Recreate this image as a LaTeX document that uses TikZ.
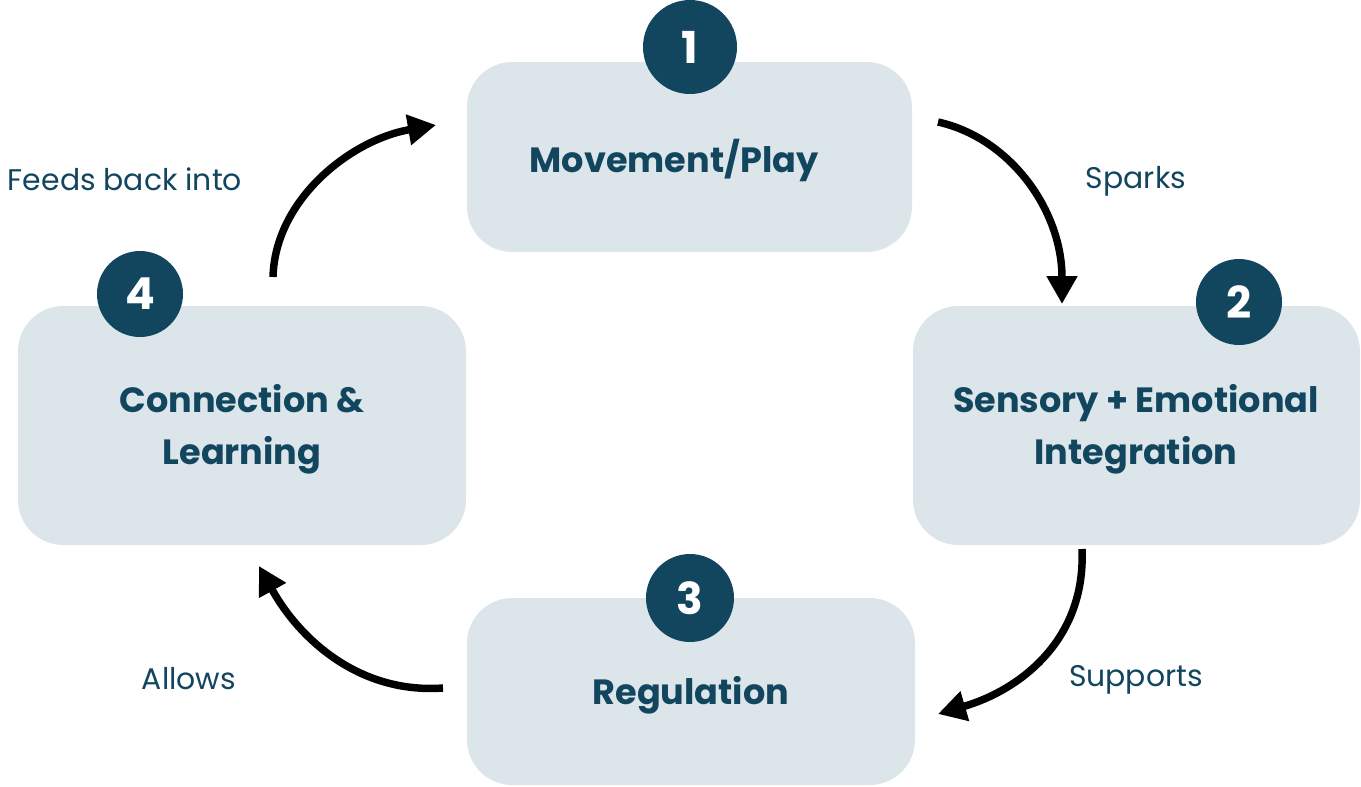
\documentclass[tikz,border=0pt]{standalone}
\usepackage{fontspec}
\setmainfont{Poppins}
\usetikzlibrary{arrows.meta}
\definecolor{boxfill}{HTML}{DCE5EA}
\definecolor{ink}{HTML}{12465F}
\tikzset{
  stage/.style={fill=boxfill, rounded corners=34pt, draw=none},
  stagetext/.style={text=ink, align=center, font=\fontsize{26.3}{39}\selectfont\bfseries},
  badge/.style={circle, fill=ink, text=white, font=\fontsize{33}{33}\selectfont\bfseries, inner sep=0pt},
  flow/.style={line width=5.6pt, -{Triangle[length=21pt,width=22pt]}},
  cue/.style={text=ink, font=\fontsize{22.4}{26}\selectfont},
}
\begin{document}
\begin{tikzpicture}[x=0.75pt,y=-0.75pt]
\useasboundingbox (0,0) rectangle (1361,786);
% boxes
\node[stage, minimum width=445*0.75pt, minimum height=190*0.75pt] (s1) at (689.5,157) {};
\node[stage, minimum width=447*0.75pt, minimum height=239*0.75pt] (s2) at (1136.5,425.5) {};
\node[stage, minimum width=448*0.75pt, minimum height=187*0.75pt] (s3) at (691,691.5) {};
\node[stage, minimum width=448*0.75pt, minimum height=239*0.75pt] (s4) at (242,425.5) {};
\node[stagetext] (t1) at (674,160) {Movement/Play};
\node[stagetext] (t2) at (1136,429) {Sensory + Emotional\\Integration};
\node[stagetext] (t3) at (691,695) {Regulation};
\node[stagetext] (t4) at (242,429) {Connection \&\\Learning};
% badges
\node[badge, minimum size=94*0.75pt] (b1) at (690,47) {1};
\node[badge, minimum size=86*0.75pt] (b2) at (1239,302) {2};
\node[badge, minimum size=88*0.75pt] (b3) at (690,598) {3};
\node[badge, minimum size=86*0.75pt] (b4) at (140,294) {4};
% arrow ends
\coordinate (a1s) at (938,122);
\coordinate (a1e) at (1062,304);
\coordinate (a2s) at (1082,549);
\coordinate (a2e) at (938,714);
\coordinate (a3s) at (443,688);
\coordinate (a3e) at (259,566);
\coordinate (a4s) at (273,277);
\coordinate (a4e) at (436,125);
\draw[flow] (a1s) .. controls (1010,138) and (1062,210) .. (a1e);
\draw[flow] (a2s) .. controls (1086,640) and (1020,690) .. (a2e);
\draw[flow] (a3s) .. controls (360,694) and (300,640) .. (a3e);
\draw[flow] (a4s) .. controls (275,200) and (350,140) .. (a4e);
% labels
\node[cue] (l1) at (1136,181) {Sparks};
\node[cue] (l2) at (1136,680) {Supports};
\node[cue] (l3) at (189,679) {Allows};
\node[cue] (l4) at (125,179) {Feeds back into};
\end{tikzpicture}
\end{document}
